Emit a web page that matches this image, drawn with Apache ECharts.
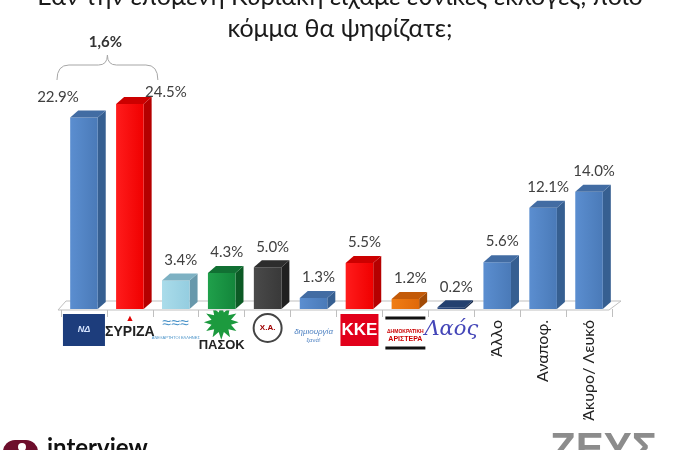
<!DOCTYPE html>
<html>
<head>
<meta charset="utf-8">
<script src="https://cdn.jsdelivr.net/npm/echarts@6/dist/echarts.min.js"></script>
<style>
  html, body { margin: 0; padding: 0; background: #fff; }
  #main { width: 680px; height: 450px; }
</style>
</head>
<body>
<div id="main"></div>
<script>
// data
var parties = ['ΝΔ', 'ΣΥΡΙΖΑ', 'ΑΝ.ΕΛ.', 'ΠΑΣΟΚ', 'Χρυσή Αυγή', 'Δημιουργία ξανά', 'ΚΚΕ', 'ΔΗΜΑΡ', 'ΛΑΟΣ', 'Άλλο', 'Αναποφ.', 'Άκυρο/ Λευκό'];
var shares = [22.9, 24.5, 3.4, 4.3, 5.0, 1.3, 5.5, 1.2, 0.2, 5.6, 12.1, 14.0];
var textLabels = ['', '', '', '', '', '', '', '', '', 'Άλλο', 'Αναποφ.', 'Άκυρο/ Λευκό'];
var logoLabels = [
  '{nd|ΝΔ}',
  '{sfl|▲}\n{syr|ΣΥΡΙΖΑ}',
  '{anw|≈≈≈}\n{ant|ΑΝΕΞΑΡΤΗΤΟΙ ΕΛΛΗΝΕΣ}',
  '{psun|✹}\n{pas|ΠΑΣΟΚ}',
  '{xa|Χ.Α.}',
  '{dim|δημιουργία}\n{dim2|ξανά!}',
  '{kke|ΚΚΕ}',
  '{dbar|}\n{dt1|ΔΗΜΟΚΡΑΤΙΚΗ}\n{dt2|ΑΡΙΣΤΕΡΑ}\n{dbar|}',
  '{laos|Λαός}',
  '', '', ''
];
var titleLines = ['Εάν την επόμενη Κυριακή είχαμε εθνικές εκλογές, ποιο', 'κόμμα θα ψηφίζατε;'];

// bar colours: [front left, front right, side, top]
var blue = ['#5b8ed0', '#4a7ab8', '#365f91', '#426ca3'];
var red = ['#ff1c1c', '#f00000', '#b50000', '#cc0000'];
var barColors = [
  blue, red,
  ['#aadcea', '#94cde0', '#6898ab', '#7db1c3'],
  ['#20a04b', '#13863b', '#0c5a25', '#117033'],
  ['#4a4a4a', '#393939', '#202020', '#2d2d2d'],
  blue, red,
  ['#f07d14', '#e0690a', '#a14a05', '#c35a08'],
  ['#2c4c84', '#1f3b6b', '#132646', '#23406f'],
  blue, blue, blue
];
var labelNudge = { 0: [-26, 0], 1: [36, 9] };
var DX = 8, DY = 7;
var FONT = 'Lato, "Noto Sans", sans-serif';

var chart = echarts.init(document.getElementById('main'));

function renderBar(params, api) {
  var i = api.value(0), v = api.value(1);
  var base = api.coord([i, 0]);
  var top = api.coord([i, v]);
  var w = api.size([1, 0])[0] * 0.6;
  var x0 = base[0] - w / 2, x1 = base[0] + w / 2;
  var c = barColors[i];
  var nd = labelNudge[i] || [5, 0];
  return {
    type: 'group',
    children: [
      { type: 'polygon', shape: { points: [[x1, top[1]], [x1 + DX, top[1] - DY], [x1 + DX, base[1] - DY], [x1, base[1]]] },
        style: { fill: c[2] } },
      { type: 'rect', shape: { x: x0, y: top[1], width: w, height: base[1] - top[1] },
        style: { fill: { type: 'linear', x: 0, y: 0, x2: 1, y2: 0, colorStops: [{ offset: 0, color: c[0] }, { offset: 1, color: c[1] }] } } },
      { type: 'polygon', shape: { points: [[x0, top[1]], [x0 + DX, top[1] - DY], [x1 + DX, top[1] - DY], [x1, top[1]]] },
        style: { fill: c[3] } },
      { type: 'text', style: { text: v.toFixed(1) + '%', x: base[0] + nd[0], y: top[1] - DY - 6 + nd[1],
        align: 'center', verticalAlign: 'bottom', font: '15px ' + FONT, fill: '#404040' } }
    ]
  };
}

chart.setOption({
  animation: false,
  grid: { left: 61, right: 68, top: 58, bottom: 141 },
  xAxis: [{
    type: 'category',
    data: parties,
    position: 'bottom',
    axisLine: { show: false },
    axisTick: { show: true, length: 8, lineStyle: { color: '#bfbfbf' } },
    axisLabel: {
      interval: 0, rotate: 90, margin: 11,
      fontSize: 16, fontFamily: FONT, color: '#222',
      formatter: function (v, i) { return textLabels[i]; }
    }
  }, {
    type: 'category',
    data: parties,
    position: 'bottom',
    axisLine: { show: false },
    axisTick: { show: false },
    axisLabel: {
      interval: 0, margin: 5,
      formatter: function (v, i) { return logoLabels[i]; },
      rich: {
        nd: { backgroundColor: '#1d3d7c', color: '#d5e4ff', width: 42, height: 32, align: 'center', fontSize: 9, fontWeight: 'bold', fontStyle: 'italic' },
        sfl: { color: '#e00000', fontSize: 9, lineHeight: 10 },
        syr: { color: '#222', fontSize: 14, fontWeight: 'bold', fontFamily: '"Liberation Sans"', lineHeight: 16 },
        anw: { color: '#4a93c9', fontSize: 16, lineHeight: 20 },
        ant: { color: '#4a93c9', fontSize: 4, lineHeight: 8 },
        psun: { color: '#1c9a3e', fontSize: 46, lineHeight: 24 },
        pas: { color: '#222', fontSize: 13, fontWeight: 'bold', fontFamily: '"Liberation Sans"', lineHeight: 14 },
        xa: { color: '#a00000', fontSize: 8, fontWeight: 'bold', width: 28, height: 28, align: 'center', borderColor: '#444', borderWidth: 2, borderRadius: 16 },
        dim: { color: '#4a7fc1', fontSize: 8, fontStyle: 'italic', lineHeight: 22, verticalAlign: 'bottom' },
        dim2: { color: '#4a7fc1', fontSize: 6, lineHeight: 9 },
        kke: { backgroundColor: '#e2001a', color: '#fff', fontSize: 17, fontWeight: 'bold', fontFamily: '"Liberation Sans"', width: 38, height: 32, align: 'center' },
        dbar: { backgroundColor: '#111', width: 40, height: 3, lineHeight: 8 },
        dt1: { color: '#c00', fontSize: 5, fontWeight: 'bold', lineHeight: 12, verticalAlign: 'bottom' },
        dt2: { color: '#c00', fontSize: 7, fontWeight: 'bold', lineHeight: 10 },
        laos: { color: '#4446b8', fontSize: 21, fontStyle: 'italic', fontFamily: '"DejaVu Serif"', lineHeight: 32 }
      }
    }
  }],
  yAxis: { type: 'value', min: 0, max: 30, show: false },
  series: [{
    type: 'custom',
    renderItem: renderBar,
    xAxisIndex: 0,
    z: 5,
    data: shares.map(function (v, i) { return [i, v]; })
  }]
});

// floor, brace and texts placed from the axis scales
var p0 = chart.convertToPixel({ xAxisIndex: 0, yAxisIndex: 0 }, [0, 0]);
var pN = chart.convertToPixel({ xAxisIndex: 0, yAxisIndex: 0 }, [parties.length - 1, 0]);
var p1 = chart.convertToPixel({ xAxisIndex: 0, yAxisIndex: 0 }, [1, 0]);
var half = (pN[0] - p0[0]) / (parties.length - 1) / 2;
var fl = p0[0] - half - 3, fr = pN[0] + half - 3, fb = p0[1] + 1;
var bx0 = p0[0] - 27, bx1 = p1[0] + 28, cx = (bx0 + bx1) / 2;
var gap = (shares[1] - shares[0]).toFixed(1).replace('.', ',') + '%';
var brace = { stroke: '#a6a6a6', lineWidth: 1, fill: 'none' };

chart.setOption({
  graphic: [
    { type: 'polygon', z: 1, shape: { points: [[fl, fb], [fr, fb], [fr + DX + 4, fb - DY - 2], [fl + DX, fb - DY - 2]] },
      style: { fill: '#fff', stroke: '#bfbfbf', lineWidth: 1 } },
    { type: 'text', x: 340, y: -3, style: { text: titleLines[0], font: '25px ' + FONT, fill: '#1a1a1a', align: 'center', verticalAlign: 'middle' } },
    { type: 'text', x: 340, y: 29, style: { text: titleLines[1], font: '25px ' + FONT, fill: '#1a1a1a', align: 'center', verticalAlign: 'middle' } },
    { type: 'bezierCurve', shape: { x1: bx0, y1: 80, cpx1: bx0, cpy1: 65, x2: bx0 + 12, y2: 65 }, style: brace },
    { type: 'line', shape: { x1: bx0 + 12, y1: 65, x2: cx - 9, y2: 65 }, style: brace },
    { type: 'bezierCurve', shape: { x1: cx - 9, y1: 65, cpx1: cx, cpy1: 65, x2: cx, y2: 55 }, style: brace },
    { type: 'bezierCurve', shape: { x1: cx, y1: 55, cpx1: cx, cpy1: 65, x2: cx + 9, y2: 65 }, style: brace },
    { type: 'line', shape: { x1: cx + 9, y1: 65, x2: bx1 - 12, y2: 65 }, style: brace },
    { type: 'bezierCurve', shape: { x1: bx1 - 12, y1: 65, cpx1: bx1, cpy1: 65, x2: bx1, y2: 80 }, style: brace },
    { type: 'text', x: cx - 2, y: 42, style: { text: gap, font: 'bold 15px ' + FONT, fill: '#333', align: 'center', verticalAlign: 'middle' } },
    { type: 'rect', shape: { x: 3, y: 440, width: 35, height: 30, r: 12 }, style: { fill: '#6d0e2c' } },
    { type: 'circle', shape: { cx: 22, cy: 447, r: 4 }, style: { fill: '#fff' } },
    { type: 'text', x: 47, y: 436, style: { text: 'interview', font: 'bold 24px ' + FONT, fill: '#111', verticalAlign: 'top' } },
    { type: 'text', x: 550, y: 429, style: { text: 'ΖΕΥΣ', font: 'bold 42px "Liberation Sans"', fill: '#8c8c8c', verticalAlign: 'top' } }
  ]
});
</script>
</body>
</html>
